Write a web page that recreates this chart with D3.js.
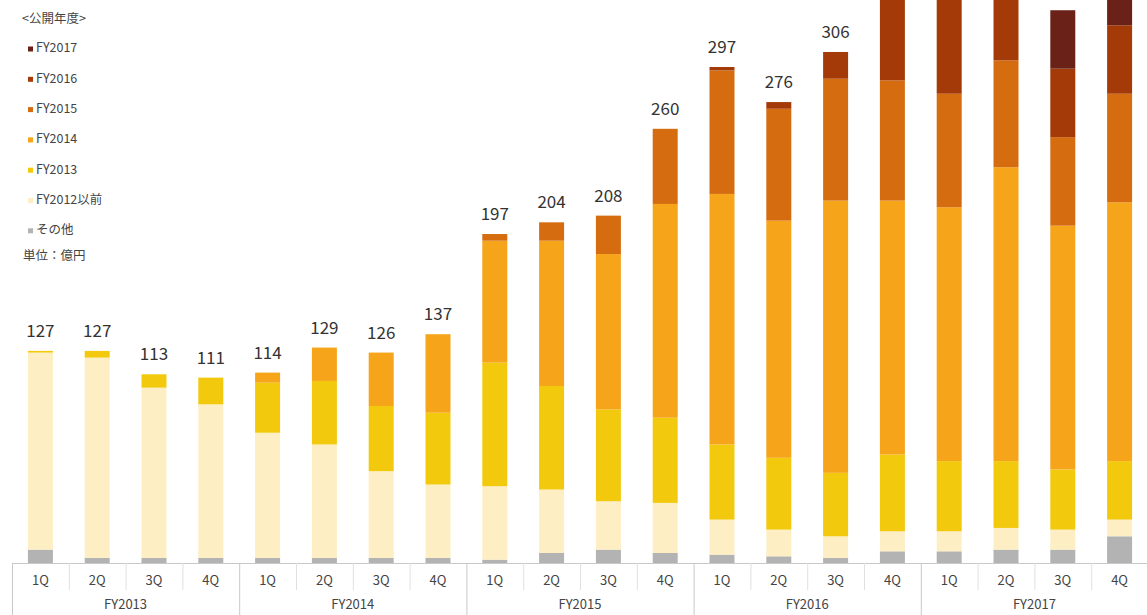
<!DOCTYPE html>
<html>
<head>
<meta charset="utf-8">
<script src="https://cdn.jsdelivr.net/npm/d3@7"></script>
<style>
  html, body { margin: 0; padding: 0; background: #fff; }
  svg { display: block; font-family: "Noto Sans CJK JP", "Noto Sans", sans-serif; }
</style>
</head>
<body>
<svg id="chart" width="1147" height="615"></svg>
<script>
// Quarter / fiscal-year categories
const fiscalYears = ["FY2013", "FY2014", "FY2015", "FY2016", "FY2017"];
const quarters = ["1Q", "2Q", "3Q", "4Q"];

// Sales by release year (単位：億円), one value per quarter, FY2013 1Q .. FY2017 4Q
const other  = [8, 3, 3, 3, 3, 3, 3, 3, 2, 6, 8, 6, 5, 4, 3, 7, 7, 8, 8, 16];
const fy2012 = [118, 120, 102, 92, 75, 68, 52, 44, 44, 38, 29, 30, 21, 16, 13, 12, 12, 13, 12, 10];
const fy2013 = [1, 4, 8, 16, 30, 38, 39, 43, 74, 62, 55, 51, 45, 43, 38, 46, 42, 40, 36, 35];
const fy2014 = [0, 0, 0, 0, 6, 20, 32, 47, 73, 87, 93, 128, 150, 142, 163, 152, 152, 176, 146, 155];
const fy2015 = [0, 0, 0, 0, 0, 0, 0, 0, 4, 11, 23, 45, 74, 67, 73, 72, 68, 64, 53, 65];
const fy2016 = [0, 0, 0, 0, 0, 0, 0, 0, 0, 0, 0, 0, 2, 4, 16, 62, 65, 45, 41, 41];
const fy2017 = [0, 0, 0, 0, 0, 0, 0, 0, 0, 0, 0, 0, 0, 0, 0, 0, 5, 10, 35, 25];

// Series, stacked from the bottom up
const seriesNames  = ["その他", "FY2012以前", "FY2013", "FY2014", "FY2015", "FY2016", "FY2017"];
const seriesValues = [other, fy2012, fy2013, fy2014, fy2015, fy2016, fy2017];
const seriesColors = ["#b3b3b3", "#fdefc3", "#f2c90c", "#f6a41a", "#d56c10", "#a33a07", "#6a2218"];

// Legend order (top to bottom)
const legendOrder = ["FY2017", "FY2016", "FY2015", "FY2014", "FY2013", "FY2012以前", "その他"];

const rows = [];
fiscalYears.forEach((fy, fi) => quarters.forEach((q, qi) => {
  const i = fi * 4 + qi;
  const row = { key: fy + "-" + q, fy, q };
  seriesNames.forEach((s, si) => { row[s] = seriesValues[si][i]; });
  rows.push(row);
}));

const svg = d3.select("#chart");
const W = 1147, H = 615;
const baseY = 563;

const x = d3.scaleBand()
  .domain(rows.map(d => d.key))
  .range([12, 1148])
  .paddingInner(0.56)
  .paddingOuter(0.28);

const y = d3.scaleLinear().domain([0, 100]).range([baseY, baseY - 167]);

const color = d3.scaleOrdinal().domain(seriesNames).range(seriesColors);

const stack = d3.stack().keys(seriesNames);
const stacked = stack(rows);

// Bars
const gBars = svg.append("g");
gBars.selectAll("g.layer")
  .data(stacked)
  .join("g")
  .attr("class", "layer")
  .attr("fill", d => color(d.key))
  .selectAll("rect")
  .data(d => d)
  .join("rect")
  .attr("x", d => x(d.data.key))
  .attr("width", x.bandwidth())
  .attr("y", d => y(d[1]))
  .attr("height", d => Math.max(0, y(d[0]) - y(d[1])));

// Total labels above each bar
const totals = rows.map(r => ({ key: r.key, total: d3.sum(seriesNames, s => r[s]) }));
svg.append("g")
  .selectAll("text")
  .data(totals.filter(d => y(d.total) - 14 > 16))
  .join("text")
  .attr("x", d => x(d.key) + x.bandwidth() / 2)
  .attr("y", d => y(d.total) - 14)
  .attr("text-anchor", "middle")
  .attr("font-size", 17)
  .attr("fill", "#333")
  .text(d => d3.format("d")(d.total));

// Category axis drawn as a two-row table
const step = x.step();
const edge = d => x(d) - x.paddingOuter() * step;
const axisG = svg.append("g");
const x0 = 12, x1 = 1148;
const qRowBottom = 590;

axisG.append("line")
  .attr("x1", x0).attr("x2", x1)
  .attr("y1", baseY + 0.5).attr("y2", baseY + 0.5)
  .attr("stroke", "#c8c8c8");

rows.forEach((r, i) => {
  const left = edge(r.key);
  const isYearStart = i % 4 === 0;
  axisG.append("line")
    .attr("x1", left + 0.5).attr("x2", left + 0.5)
    .attr("y1", baseY).attr("y2", isYearStart ? H : qRowBottom)
    .attr("stroke", isYearStart ? "#c8c8c8" : "#e0e0e0");
  axisG.append("text")
    .attr("x", x(r.key) + x.bandwidth() / 2)
    .attr("y", 581)
    .attr("text-anchor", "middle")
    .attr("dominant-baseline", "middle")
    .attr("font-size", 13)
    .attr("fill", "#444")
    .text(r.q);
});

fiscalYears.forEach(fy => {
  const first = fy + "-1Q", last = fy + "-4Q";
  const cx = (x(first) + x(last) + x.bandwidth()) / 2;
  axisG.append("text")
    .attr("x", cx)
    .attr("y", 605)
    .attr("text-anchor", "middle")
    .attr("dominant-baseline", "middle")
    .attr("font-size", 13)
    .attr("fill", "#444")
    .text(fy);
});

// Legend
const lg = svg.append("g").attr("font-size", 12.5).attr("fill", "#444");
lg.append("text").attr("x", 22).attr("y", 20)
  .attr("dominant-baseline", "middle").text("<公開年度>");
legendOrder.forEach((name, i) => {
  const cy = 49 + i * 30.3;
  lg.append("rect")
    .attr("x", 28).attr("y", cy - 2.5)
    .attr("width", 5).attr("height", 5)
    .attr("fill", color(name));
  lg.append("text")
    .attr("x", 36).attr("y", cy)
    .attr("dominant-baseline", "middle")
    .text(name);
});
lg.append("text").attr("x", 23).attr("y", 257)
  .attr("dominant-baseline", "middle").text("単位：億円");
</script>
</body>
</html>
